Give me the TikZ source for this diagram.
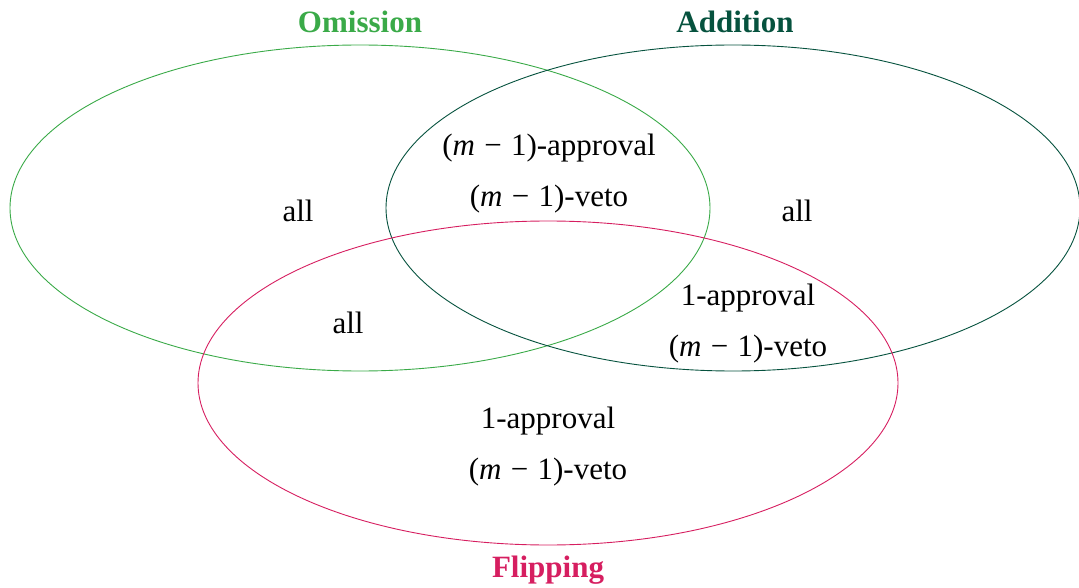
\documentclass[tikz,border=0pt]{standalone}
\usepackage{fontspec}
\setmainfont{Liberation Serif}
\usetikzlibrary{shapes.geometric,positioning}

\definecolor{omigreen}{RGB}{58,170,72}
\definecolor{addgreen}{RGB}{6,82,62}
\definecolor{flipred}{RGB}{214,30,96}

\newcommand{\mminus}{(\textit{m}\hspace{0.3em}−\hspace{0.3em}1)}

\tikzset{
  venn/.style={ellipse, draw, line width=0.9pt, inner sep=0pt,
    minimum width=700, minimum height=326},
  setname/.style={font=\fontsize{31}{51}\selectfont\bfseries},
  region/.style={align=center}
}

\begin{document}
\begin{tikzpicture}[x=1pt, y=-1pt, every node/.style={font=\fontsize{31}{51}\selectfont}]
    \useasboundingbox (0,0) rectangle (1079,588);

    % the three sets
    \node[venn, draw=omigreen] (omission) at (360,208) {};
    \node[venn, draw=addgreen, minimum width=694] (addition) at (733,208) {};
    \node[venn, draw=flipred, minimum height=324] (flipping) at (548,383) {};

    \node[setname, text=omigreen] (omissionlbl) at (360,22) {Omission};
    \node[setname, text=addgreen] (additionlbl) at (735,22) {Addition};
    \node[setname, text=flipred] (flippinglbl) at (548,570) {Flipping};

    % regions
    \node[region] (oa) at (549,174) {\mminus-approval\\\mminus-veto};
    \node (o) at (298,211) {all};
    \node (a) at (797,211) {all};
    \node (of) at (348,323) {all};
    \node[region] (af) at (748,324) {1-approval\\\mminus-veto};
    \node[region] (f) at (548,447) {1-approval\\\mminus-veto};
\end{tikzpicture}
\end{document}
